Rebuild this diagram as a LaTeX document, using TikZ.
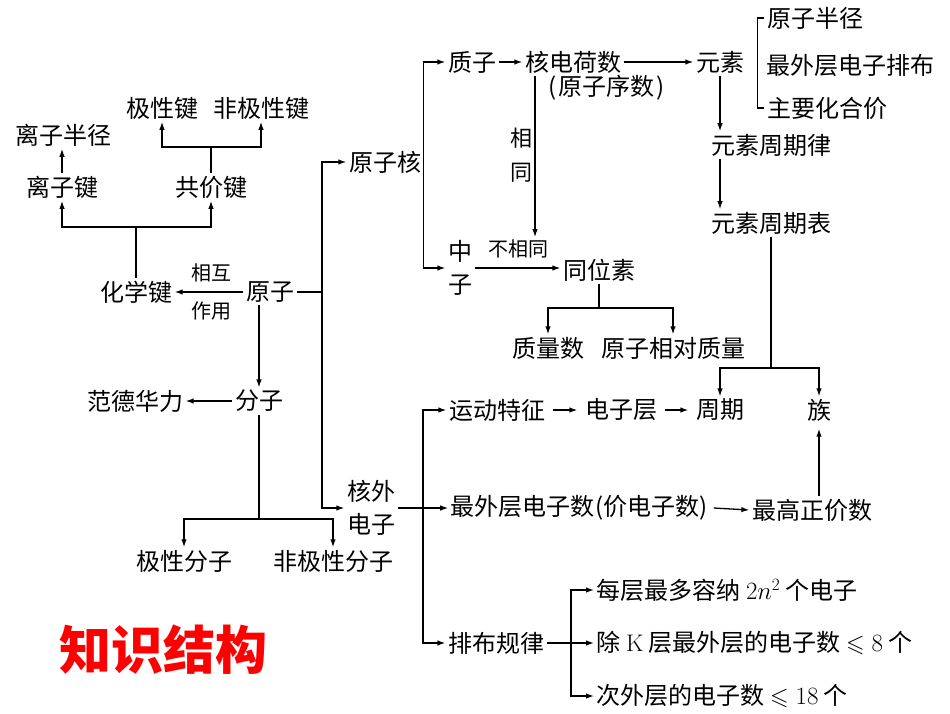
\documentclass[tikz,border=0pt]{standalone}
\usepackage{amsmath,amssymb}
\usepackage{fontspec}
\usepackage{tikz}
\usetikzlibrary{arrows.meta}
\newfontfamily\cjk{Noto Sans CJK SC}
\definecolor{titlered}{RGB}{255,0,0}

\begin{document}
\begin{tikzpicture}[x=1pt,y=-1pt,line width=1.3pt,
  every node/.style={font=\cjk\fontsize{24}{33}\selectfont,inner sep=2pt,align=center},
  lbl/.style={font=\cjk\fontsize{20}{34}\selectfont},
  arr/.style={-{Latex[length=8pt,width=5.5pt]}}]
  \useasboundingbox (0,0) rectangle (950,713);

  % Bonds and molecules
  \node (jx) at (162,108) {极性键};
  \node (fjx) at (261,108) {非极性键};
  \node (lzbj) at (63,135) {离子半径};
  \node (lzj) at (62,187) {离子键};
  \node (gjj) at (211,187) {共价键};
  \node (hxj) at (136,292) {化学键};
  \node (yz) at (270,292) {原子};
  \node[lbl] (xh) at (211,273) {相互};
  \node[lbl] (zy) at (211,311) {作用};
  \node (fz) at (259,401) {分子};
  \node (fdhl) at (135,401) {范德华力};
  \node (jxfz) at (184,561) {极性分子};
  \node (fjxfz) at (333,561) {非极性分子};

  % Nucleus
  \node (yzh) at (385,162) {原子核};
  \node (zz) at (472,62) {质子};
  \node (hdhs) at (573,62) {核电荷数};
  \node (yzxs) at (607,88) {(\kern2pt原子序数\kern2pt)};
  \node[font=\cjk\fontsize{22}{34}\selectfont] (xt) at (521,155) {相\\同};
  \node (zhz) at (460,268) {中\\子};
  \node[lbl] (bxt) at (518,249) {不相同};
  \node (twz) at (599,270) {同位素};
  \node (zls) at (548,348) {质量数};
  \node (yzxdzl) at (673,348) {原子相对质量};

  % Elements
  \node (ys) at (720,62) {元素};
  \node (yzbj) at (815,18) {原子半径};
  \node (zwcpb) at (850,65) {最外层电子排布};
  \node (zyhhj) at (827,108) {主要化合价};
  \node (zqly) at (771,145) {元素周期律};
  \node (zqb) at (771,223) {元素周期表};
  \node (zq) at (720,410) {周期};
  \node (zu) at (819,410) {族};

  % Electrons
  \node (hwdz) at (371,508) {核外\\电子};
  \node (ydtz) at (497,410) {运动特征};
  \node (dzc) at (621,410) {电子层};
  \node (zwcdzs) at (581,508) {最外层电子数\kern1pt(价电子数)\kern3pt};
  \node (zgzjs) at (812,510) {最高正价数};
  \node (pbgl) at (496,643) {排布规律};
  \node[anchor=west] (gz1) at (594,590) {每层最多容纳 $2n^2$ 个电子};
  \node[anchor=west] (gz2) at (594,643) {除 {\rmfamily K} 层最外层的电子数 $\leqslant 8$ 个};
  \node[anchor=west] (gz3) at (594,696) {次外层的电子数 $\leqslant 18$ 个};

  % Title
  \node[font=\cjk\bfseries\fontsize{52}{56}\selectfont,text=titlered] (title) at (163,650) {知识结构};

  % Connectors, left part
  \draw[arr] (lzj.north) -- (lzj.north |- lzbj.south);
  \coordinate (gjjm) at (gjj.north |- 0,147);
  \draw (gjj.north) -- (gjjm);
  \draw[arr] (gjjm) -| (jx.south);
  \draw[arr] (gjjm) -| (fjx.south);
  \coordinate (hxjm) at (hxj.north |- 0,227);
  \draw (hxj.north) -- (hxjm);
  \draw[arr] (hxjm) -| (lzj.south);
  \draw[arr] (hxjm) -| (gjj.south);
  \draw[arr] (yz.west) -- (hxj.east);
  \coordinate (yzr) at (322,292);
  \draw (yz.east) -- (yzr);
  \draw[arr] (yzr) |- (yzh.west);
  \draw[arr] (yzr) |- (hwdz.west);
  \draw[arr] (fz.north |- yz.south) -- (fz.north);
  \draw[arr] (fz.west) -- (fdhl.east);
  \coordinate (fzm) at (fz.south |- 0,519);
  \draw (fz.south) -- (fzm);
  \draw[arr] (fzm) -| (jxfz.north);
  \draw[arr] (fzm) -| (fjxfz.north);

  % Connectors, nucleus
  \draw[arr] (yzh.east) |- (zz.west);
  \draw[arr] (yzh.east) |- (zhz.west);
  \draw[arr] (zz.east) -- (hdhs.west);
  \draw[arr] (hdhs.east) -- (ys.west);
  \coordinate (xt0) at ([xshift=-38pt]hdhs.south);
  \draw[arr] (xt0) -- (xt0 |- bxt.north);
  \draw[arr] (zhz.east) -- (zhz.east -| twz.west);
  \coordinate (twzm) at (twz.south |- 0,308);
  \draw (twz.south) -- (twzm);
  \draw[arr] (twzm) -| (zls.north);
  \draw[arr] (twzm) -| (yzxdzl.north);

  % Connectors, elements
  \draw[arr] (ys.south) -- (ys.south |- zqly.north);
  \draw[arr] (ys.south |- zqly.south) -- (ys.south |- zqb.north);
  \draw (yzbj.west) -- ++(-7,0) |- (zyhhj.west);
  \coordinate (zqbm) at (zqb.south |- 0,368);
  \draw (zqb.south) -- (zqbm);
  \draw[arr] (zqbm) -| (zq.north);
  \draw[arr] (zqbm) -| (zu.north);

  % Connectors, electrons
  \draw[arr] (hwdz.east) -- (zwcdzs.west);
  \coordinate (hwm) at (423,508);
  \draw[arr] (hwm) |- (ydtz.west);
  \draw[arr] (hwm) |- (pbgl.west);
  \draw[arr,shorten <=5pt,shorten >=5pt] (ydtz.east) -- (dzc.west);
  \draw[arr,shorten <=5pt,shorten >=5pt] (dzc.east) -- (zq.west);
  \draw[arr] (zwcdzs.east) -- (zgzjs.west);
  \draw[arr,shorten >=5pt] (zgzjs.north -| zu.south) -- (zu.south);
  \draw[arr] (pbgl.east) -- (gz2.west);
  \coordinate (pbm) at (571,643);
  \draw[arr] (pbm) |- (gz1.west);
  \draw[arr] (pbm) |- (gz3.west);
\end{tikzpicture}
\end{document}
